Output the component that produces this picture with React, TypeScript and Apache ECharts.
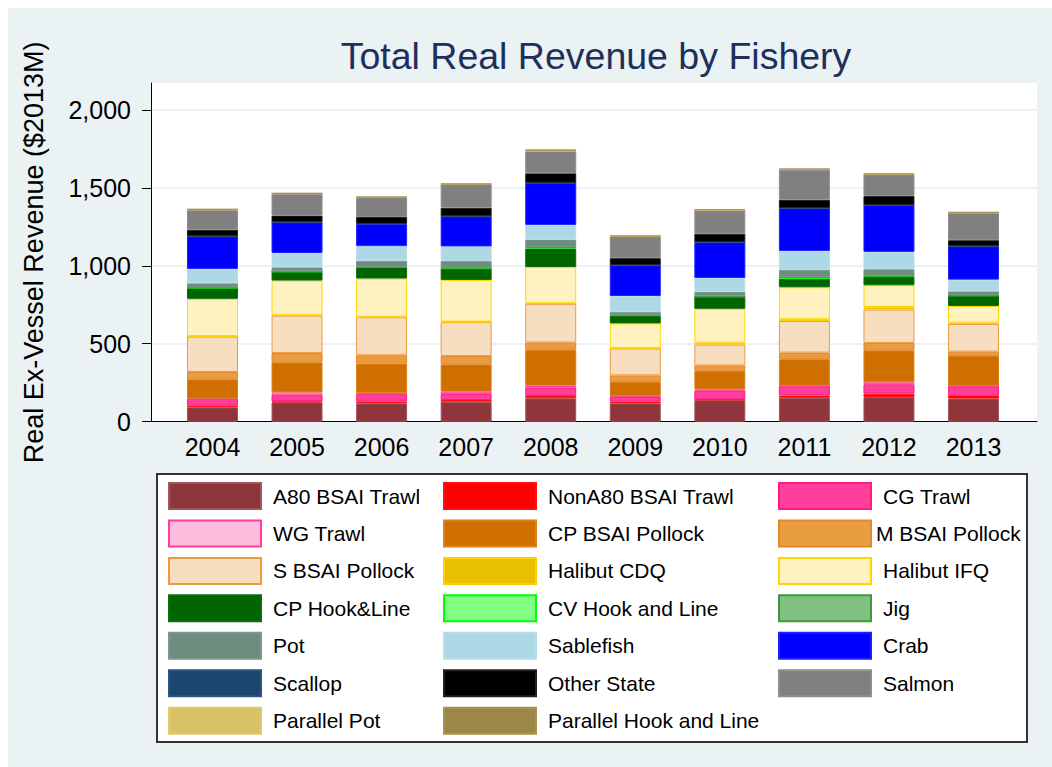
import React, { useEffect, useRef } from "react";
import * as echarts from "echarts";

const years = ["2004", "2005", "2006", "2007", "2008", "2009", "2010", "2011", "2012", "2013"];
const yTicks = [0, 500, 1000, 1500, 2000];

const a80Trawl = [92, 124, 118, 128, 150, 118, 138, 153, 158, 148];
const nonA80Trawl = [10, 6, 10, 11, 15, 10, 5, 15, 22, 21];
const cgTrawl = [43, 43, 49, 38, 55, 30, 55, 60, 60, 58];
const wgTrawl = [3, 15, 5, 15, 10, 6, 8, 2, 13, 1];
const cpPollock = [124, 193, 191, 176, 231, 90, 120, 171, 205, 193];
const mPollock = [47, 60, 53, 53, 47, 43, 34, 42, 47, 28];
const sPollock = [227, 239, 244, 218, 248, 173, 135, 203, 214, 178];
const halibutCdq = [3, 3, 3, 3, 4, 3, 11, 11, 17, 8];
const halibutIfq = [239, 222, 245, 267, 232, 157, 218, 205, 139, 107];
const cpHookLine = [69, 56, 71, 72, 119, 49, 77, 55, 53, 66];
const cvHookLine = [2, 2, 2, 5, 8, 6, 2, 8, 6, 1];
const jig = [1, 1, 1, 1, 2, 1, 1, 1, 1, 1];
const pot = [28, 26, 40, 43, 47, 17, 28, 47, 43, 26];
const sablefish = [92, 92, 94, 94, 94, 103, 90, 122, 111, 75];
const crab = [208, 197, 143, 193, 270, 197, 229, 274, 300, 214];
const scallop = [1, 1, 1, 1, 1, 1, 1, 1, 1, 1];
const otherState = [42, 42, 43, 54, 60, 45, 53, 53, 58, 38];
const salmon = [128, 140, 125, 150, 143, 139, 150, 193, 137, 176];
const parallelPot = [1, 1, 1, 1, 2, 1, 2, 2, 2, 1];
const parallelHookLine = [4, 3, 3, 3, 8, 4, 4, 4, 5, 3];

const seriesDefs = [
  { name: "A80 BSAI Trawl", data: a80Trawl, color: "#8F353C", border: "#A2565C" },
  { name: "NonA80 BSAI Trawl", data: nonA80Trawl, color: "#FF0000", border: "#FF1010" },
  { name: "CG Trawl", data: cgTrawl, color: "#FF3F9A", border: "#FF1A85" },
  { name: "WG Trawl", data: wgTrawl, color: "#FFBBDD", border: "#FF3F9A" },
  { name: "CP BSAI Pollock", data: cpPollock, color: "#CF6F00", border: "#DC8218" },
  { name: "M BSAI Pollock", data: mPollock, color: "#EA9C40", border: "#E2872A" },
  { name: "S BSAI Pollock", data: sPollock, color: "#F7DEC0", border: "#EC9A40" },
  { name: "Halibut CDQ", data: halibutCdq, color: "#E8C000", border: "#FFD000" },
  { name: "Halibut IFQ", data: halibutIfq, color: "#FFF2C0", border: "#FFD700" },
  { name: "CP Hook&Line", data: cpHookLine, color: "#006400", border: "#0B6E0B" },
  { name: "CV Hook and Line", data: cvHookLine, color: "#80FF80", border: "#00FF00" },
  { name: "Jig", data: jig, color: "#80C080", border: "#3A9A3A" },
  { name: "Pot", data: pot, color: "#6E8D7E", border: "#7A998A" },
  { name: "Sablefish", data: sablefish, color: "#ADD8E6", border: "#B8DEEA" },
  { name: "Crab", data: crab, color: "#0000FF", border: "#2020FF" },
  { name: "Scallop", data: scallop, color: "#1B466E", border: "#2A5580" },
  { name: "Other State", data: otherState, color: "#000000", border: "#222222" },
  { name: "Salmon", data: salmon, color: "#808080", border: "#8E8E8E" },
  { name: "Parallel Pot", data: parallelPot, color: "#D9C266", border: "#E0CA70" },
  { name: "Parallel Hook and Line", data: parallelHookLine, color: "#9C8846", border: "#A89250" },
];

const legendCol1 = ["A80 BSAI Trawl", "WG Trawl", "S BSAI Pollock", "CP Hook&Line", "Pot", "Scallop", "Parallel Pot"];
const legendCol2 = ["NonA80 BSAI Trawl", "CP BSAI Pollock", "Halibut CDQ", "CV Hook and Line", "Sablefish", "Other State", "Parallel Hook and Line"];
const legendCol3 = ["CG Trawl", "M BSAI Pollock", "Halibut IFQ", "Jig", "Crab", "Salmon"];

const Y_MAX = 2172;
const FONT = "'Liberation Sans', Arial, sans-serif";

export default function App() {
  const ref = useRef<HTMLDivElement>(null);

  useEffect(() => {
    if (!ref.current) return;
    const chart = echarts.init(ref.current, null, { renderer: "svg" });

    const legendBase = {
      orient: "vertical",
      top: 474,
      itemWidth: 92,
      itemHeight: 26,
      itemGap: 9.45,
      padding: 0,
      icon: "rect",
      selectedMode: false,
      textStyle: { fontSize: 21, lineHeight: 26, color: "#000", fontFamily: FONT, padding: [0, 0, 0, 7] },
    };

    chart.setOption({
      animation: false,
      backgroundColor: "#EAF2F3",
      textStyle: { fontFamily: FONT },
      graphic: [
        {
          type: "rect",
          shape: { x: 149, y: 466, width: 870, height: 268 },
          style: { fill: "#FFFFFF", stroke: "#333333", lineWidth: 2 },
          z: -1,
        },
        {
          type: "text",
          x: 588,
          y: 29,
          style: {
            text: "Total Real Revenue by Fishery",
            fontSize: 37.5,
            fontFamily: FONT,
            fill: "#1E2F5C",
            textAlign: "center",
            textVerticalAlign: "top",
          },
        },
      ],
      grid: [
        { left: 162.2, top: 75, width: 845.6, height: 338.7, show: false },
        { left: 143, top: 75, width: 886, height: 338.7, show: true, backgroundColor: "#FFFFFF", borderWidth: 0 },
      ],
      xAxis: [
        {
          type: "category",
          gridIndex: 0,
          data: years,
          axisLine: { show: false },
          axisTick: { show: false },
          axisLabel: { fontSize: 25, color: "#000", margin: 13, fontFamily: FONT },
        },
        {
          type: "value",
          gridIndex: 1,
          min: 0,
          max: 1,
          axisLine: { show: true, lineStyle: { color: "#000", width: 1 } },
          axisTick: { show: false },
          axisLabel: { show: false },
          splitLine: { show: false },
        },
      ],
      yAxis: [
        { type: "value", gridIndex: 0, min: 0, max: Y_MAX, show: false, splitLine: { show: false } },
        {
          type: "value",
          gridIndex: 1,
          min: 0,
          max: Y_MAX,
          name: "Real Ex-Vessel Revenue ($2013M)",
          nameLocation: "middle",
          nameGap: 104,
          nameTextStyle: { fontSize: 27, color: "#000", fontFamily: FONT },
          axisLine: { show: true, lineStyle: { color: "#000", width: 1 } },
          axisTick: { show: true, length: 9, customValues: yTicks, lineStyle: { color: "#000" } },
          axisLabel: {
            fontSize: 25,
            color: "#000",
            margin: 20,
            customValues: yTicks,
            fontFamily: FONT,
            formatter: (v: number) => v.toLocaleString("en-US"),
          },
          splitLine: { show: true, lineStyle: { color: "#EAF2F3", width: 2 } },
        },
      ],
      legend: [
        { ...legendBase, left: 160, data: legendCol1 },
        { ...legendBase, left: 435, data: legendCol2 },
        {
          ...legendBase,
          left: 770,
          data: legendCol3.map((n) =>
            n === "M BSAI Pollock"
              ? { name: n, textStyle: { fontSize: 21, lineHeight: 26, color: "#000", fontFamily: FONT, padding: [0, 0, 0, 0] } }
              : n
          ),
        },
      ],
      series: seriesDefs.map((s) => ({
        type: "bar",
        name: s.name,
        stack: "total",
        xAxisIndex: 0,
        yAxisIndex: 0,
        barWidth: 51,
        data: s.data,
        itemStyle: { color: s.color, borderColor: s.border, borderWidth: 1 },
        emphasis: { disabled: true },
      })),
    });

    return () => chart.dispose();
  }, []);

  return (
    <div
      ref={ref}
      style={{ position: "fixed", left: 8, top: 8, width: 1044, height: 759 }}
    />
  );
}
